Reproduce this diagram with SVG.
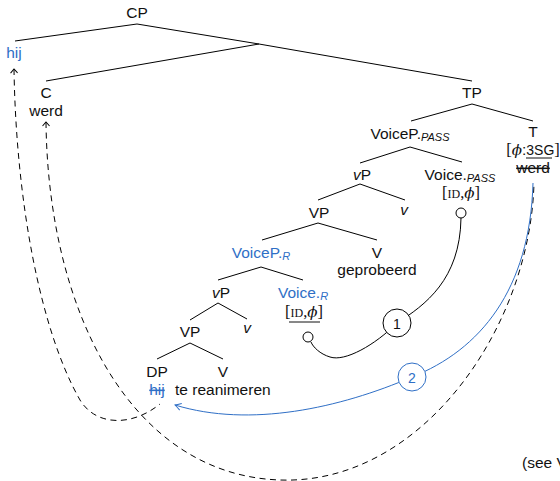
<svg xmlns="http://www.w3.org/2000/svg" width="560" height="481" viewBox="0 0 560 481">
<style>
text{font-family:"Liberation Sans",Arial,sans-serif;font-size:15.5px;fill:#111}
.c{text-anchor:middle}
.b{fill:#2f6fc6}
.sub{font-size:11px;font-style:italic}
.it{font-style:italic}
.sr{font-family:"Liberation Serif","DejaVu Serif",serif;font-size:16.5px}
.sc{font-size:12px}
.ph{font-family:"DejaVu Serif","Liberation Serif",serif;font-style:italic;font-size:15px}
.sg{font-size:14px}
.strike{text-decoration:line-through}
.edge{stroke:#000;stroke-width:1;fill:none}
.dash{stroke:#000;stroke-width:1;fill:none;stroke-dasharray:6 4.5}
.blue{stroke:#2f6fc6;stroke-width:1;fill:none}
</style>
<defs>
<marker id="caret" viewBox="-6 -5 8 10" markerWidth="8" markerHeight="10" refX="0" refY="0" orient="auto-start-reverse" markerUnits="userSpaceOnUse">
<path d="M-4,-3.5 L0,0 L-4,3.5" fill="none" stroke="#000" stroke-width="1"/>
</marker>
<marker id="barrow" viewBox="-8 -5 10 10" markerWidth="10" markerHeight="10" refX="0" refY="0" orient="auto" markerUnits="userSpaceOnUse">
<path d="M-6,-3.5 Q-2,-1 0,0 Q-2,1 -6,3.5" fill="none" stroke="#2f6fc6" stroke-width="1"/>
</marker>
</defs>

<g id="connectors">
<path class="edge" d="M137,24 L15,41"/>
<path class="edge" d="M137,24 L259,44"/>
<path class="edge" d="M259,44 L46,81"/>
<path class="edge" d="M259,44 L472,81"/>
<path class="edge" d="M472,104 L411,121"/>
<path class="edge" d="M472,104 L533,121"/>
<path class="edge" d="M410,147 L360,163"/>
<path class="edge" d="M410,147 L462,162"/>
<path class="edge" d="M360,184 L318,200"/>
<path class="edge" d="M360,184 L405,200"/>
<path class="edge" d="M318,223 L262,240"/>
<path class="edge" d="M318,223 L377,240"/>
<path class="edge" d="M261,267 L218,280"/>
<path class="edge" d="M261,267 L303,280"/>
<path class="edge" d="M218,303 L190,320"/>
<path class="edge" d="M218,303 L247,319"/>
<path class="edge" d="M190,343 L157,359"/>
<path class="edge" d="M190,343 L223,359"/>
<path class="dash" marker-start="url(#caret)" d="M14,69 C16,200 40,330 80,400 C95,425 130,428 160,404"/>
<path class="dash" marker-start="url(#caret)" d="M46,122 C48,310 130,475 280,480 C420,485 530,330 534,183"/>
<path class="blue" marker-end="url(#barrow)" d="M533,183 C530,290 480,350 412,377 C340,408 250,428 175,405"/>
<path class="edge" d="M461,218 C460,280 425,305 397,323 C375,345 345,362 330,357 C320,354 313,347 311,342"/>
</g>

<g id="CP"><text class="c" x="137" y="18">CP</text></g>
<g id="hij-top"><text class="c b" x="14" y="58">hij</text></g>
<g id="C"><text class="c" x="46" y="98">C</text><text class="c" x="46" y="116">werd</text></g>
<g id="TP"><text class="c" x="472" y="98">TP</text></g>
<g id="VoiceP-PASS"><text class="c" x="410" y="139">VoiceP.<tspan class="sub" dy="2">PASS</tspan></text></g>
<g id="T">
<text class="c" x="533" y="137">T</text>
<text class="c" x="533" y="155"><tspan class="sr">[</tspan><tspan class="ph">ϕ</tspan>:<tspan class="sg">3SG</tspan><tspan class="sr">]</tspan></text>
<line x1="526" y1="158" x2="552" y2="158" stroke="#111" stroke-width="1"/>
<text class="c strike" x="533" y="173">werd</text>
</g>
<g id="vP-upper"><text class="c" x="362" y="180"><tspan class="it">v</tspan>P</text></g>
<g id="Voice-PASS">
<text class="c" x="460" y="180">Voice.<tspan class="sub" dy="2">PASS</tspan></text>
<text class="c sr" x="461" y="198">[<tspan class="sc">ID</tspan>,<tspan class="ph">ϕ</tspan>]</text>
<circle cx="461" cy="213" r="5" fill="#fff" stroke="#000" stroke-width="1"/>
</g>
<g id="VP-upper"><text class="c" x="319" y="218">VP</text></g>
<g id="v-upper"><text class="c it" x="404" y="215">v</text></g>
<g id="VoiceP-R"><text class="c b" x="261" y="258">VoiceP.<tspan class="sub" dy="2">R</tspan></text></g>
<g id="V-upper"><text class="c" x="377" y="258">V</text><text class="c" x="377" y="275">geprobeerd</text></g>
<g id="vP-lower"><text class="c" x="221" y="298"><tspan class="it">v</tspan>P</text></g>
<g id="Voice-R">
<text class="c b" x="303" y="298">Voice.<tspan class="sub" dy="2">R</tspan></text>
<text class="c sr" x="304" y="317">[<tspan class="sc">ID</tspan>,<tspan class="ph">ϕ</tspan>]</text>
<line x1="289" y1="322" x2="320" y2="322" stroke="#111" stroke-width="1"/>
<circle cx="308" cy="337" r="5" fill="#fff" stroke="#000" stroke-width="1"/>
</g>
<g id="VP-lower"><text class="c" x="190" y="337">VP</text></g>
<g id="v-lower"><text class="c it" x="247" y="333">v</text></g>
<g id="DP"><text class="c" x="157" y="377">DP</text><text class="c b strike" x="157" y="395">hij</text></g>
<g id="V-lower"><text class="c" x="223" y="377">V</text><text x="175" y="395">te reanimeren</text></g>
<g id="step1"><circle cx="397" cy="323" r="14" fill="#fff" stroke="#000" stroke-width="1"/><text class="c" x="397" y="328.5" style="font-size:14px">1</text></g>
<g id="step2"><circle cx="412" cy="377" r="14" fill="#fff" stroke="#2f6fc6" stroke-width="1"/><text class="c b" x="412" y="382.5" style="font-size:14px">2</text></g>
<g id="note"><text x="522" y="468">(see V</text></g>
</svg>
